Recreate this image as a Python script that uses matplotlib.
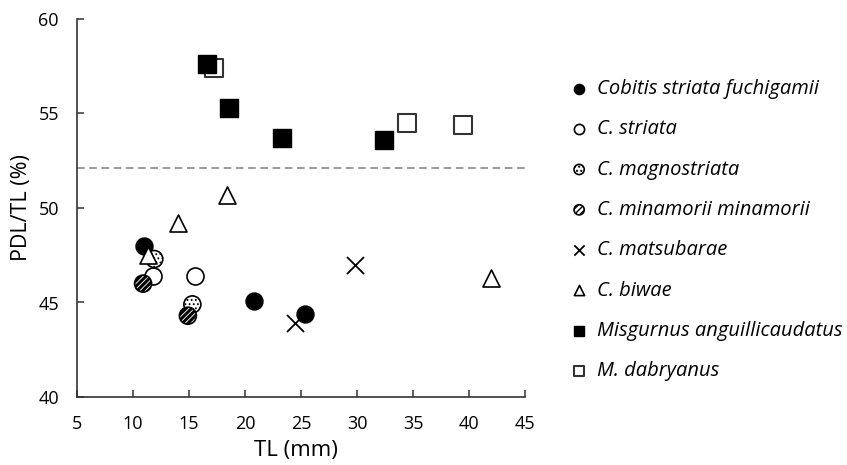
import matplotlib
matplotlib.use("Agg")
import matplotlib.pyplot as plt

plt.rcParams['font.family'] = ['Open Sans', 'DejaVu Sans']

# species data: TL (mm), PDL/TL (%)
fuchigamii_tl = [11.0, 20.8, 25.4]
fuchigamii_r = [48.0, 45.1, 44.4]
striata_tl = [11.8, 15.5]
striata_r = [46.4, 46.4]
magno_tl = [11.9, 15.3]
magno_r = [47.3, 44.9]
minamorii_tl = [10.9, 14.9]
minamorii_r = [46.0, 44.3]
matsubarae_tl = [24.5, 29.8]
matsubarae_r = [43.9, 47.0]
biwae_tl = [11.3, 14.0, 18.4, 42.0]
biwae_r = [47.5, 49.2, 50.7, 46.3]
anguill_tl = [16.6, 18.6, 23.3, 32.4]
anguill_r = [57.6, 55.3, 53.7, 53.6]
dabryanus_tl = [17.2, 34.5, 39.5]
dabryanus_r = [57.4, 54.5, 54.4]
ref_line = 52.1

fig = plt.figure(figsize=(8.47, 4.65), dpi=100)
ax = fig.add_axes([77 / 847, 1 - 397 / 465, (525 - 77) / 847, (397 - 19) / 465])


def hatched(x, y, hatch, hlw, label):
    # hatch linewidth is taken per artist when it is created
    with plt.rc_context({'hatch.linewidth': hlw}):
        sc = ax.scatter(x, y, s=s, marker='o', facecolor='white',
                        edgecolor='black', lw=1.2, hatch=hatch, label=label, zorder=3)
    if hasattr(sc, 'set_hatch_linewidth'):
        sc.set_hatch_linewidth(hlw)
    return sc


s = 150
ax.axhline(ref_line, color='#808080', lw=1.1, ls=(0, (5, 3)), zorder=1)
ax.scatter(fuchigamii_tl, fuchigamii_r, s=s, marker='o', c='black',
           label='Cobitis striata fuchigamii', zorder=3)
ax.scatter(striata_tl, striata_r, s=s, marker='o', facecolor='white',
           edgecolor='black', lw=1.2, label='C. striata', zorder=3)
hatched(magno_tl, magno_r, '....', 0.8, 'C. magnostriata')
hatched(minamorii_tl, minamorii_r, '//////', 2.2, 'C. minamorii minamorii')
ax.scatter(matsubarae_tl, matsubarae_r, s=s, marker='x', c='black', lw=1.3,
           label='C. matsubarae', zorder=3)
ax.scatter(biwae_tl, biwae_r, s=s, marker='^', facecolor='white',
           edgecolor='black', lw=1.2, label='C. biwae', zorder=3)
ax.scatter(anguill_tl, anguill_r, s=s, marker='s', c='black',
           label='Misgurnus anguillicaudatus', zorder=3)
ax.scatter(dabryanus_tl, dabryanus_r, s=s, marker='s', facecolor='white',
           edgecolor='#333333', lw=1.5, label='M. dabryanus', zorder=2)

ax.set_xlim(5, 45)
ax.set_ylim(40, 60)
ax.set_xticks(range(5, 46, 5))
ax.set_yticks(range(40, 61, 5))
ax.set_xlabel('TL (mm)', fontsize=16)
ax.set_ylabel('PDL/TL (%)', fontsize=15.5)
ax.xaxis.set_label_coords(0.488, -0.115)
ax.yaxis.set_label_coords(-0.10, 0.5)
for sp in ['top', 'right']:
    ax.spines[sp].set_visible(False)
for sp in ['left', 'bottom']:
    ax.spines[sp].set_color('#333333')
    ax.spines[sp].set_linewidth(1.2)
ax.tick_params(axis='both', direction='in', length=5, width=1.1,
               labelsize=13, pad=13, color='#333333')

leg = fig.legend(loc='upper left', bbox_to_anchor=(559 / 847, 1 - 69 / 465),
                 frameon=False, markerscale=0.6, handletextpad=0.4,
                 labelspacing=1.01, prop={'style': 'italic', 'size': 14.5},
                 borderpad=0, handlelength=1.0)

fig.savefig('out.png', dpi=100)
